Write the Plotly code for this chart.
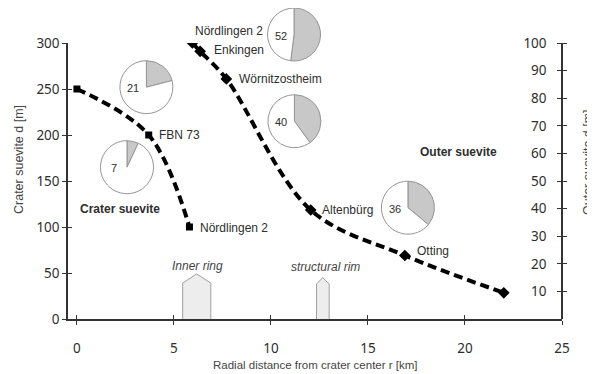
import plotly.graph_objects as go

# ---------------- data ----------------
crater_x = [0, 3.7, 5.8]
crater_y = [250, 200, 100]
crater_names = ["", "FBN 73", "Nördlingen 2"]

outer_x = [5.95, 6.35, 7.7, 12.05, 16.9, 22.0]
outer_y = [100, 97, 87, 39.5, 23, 9.5]
outer_names = ["Nördlingen 2", "Enkingen", "Wörnitzostheim", "Altenbürg", "Otting", ""]

pie_pct = [21, 7, 52, 40, 36]
pie_x = [3.58, 2.58, 11.19, 11.21, 17.06]
pie_y = [252, 165, 310, 215, 121]

inner_ring_x = [5.45, 5.45, 6.17, 6.9, 6.9]
inner_ring_y = [0, 39, 49, 39, 0]
rim_x = [12.35, 12.35, 12.67, 13.0, 13.0]
rim_y = [0, 38, 45, 38, 0]

x_ticks = [0, 5, 10, 15, 20, 25]
y_ticks = [0, 50, 100, 150, 200, 250, 300]
y2_ticks = [10, 20, 30, 40, 50, 60, 70, 80, 90, 100]

# ---------------- layout constants ----------------
W, H = 595, 374
OFF = 8                      # page body margin offset
ML, MR, MT, MB = 60, 41, 0, 63
PW, PH = W - ML - MR, H - MT - MB
XR = [-0.46, 25]
YTOP = 276 / PH
TXT = "#2e2e2e"
AX = "#333333"
FONT = "Liberation Sans, Arial, sans-serif"
TICKFONT = dict(family="Noto Sans, sans-serif", size=13.5, color=TXT)


def pxp(px):
    return (px - OFF - ML) / PW


def pyp(py):
    return (H - MB - (py - OFF)) / PH


fig = go.Figure()

# structural features
for xs, ys in [(inner_ring_x, inner_ring_y), (rim_x, rim_y)]:
    fig.add_trace(go.Scatter(x=xs, y=ys, mode="lines", fill="toself",
                             fillcolor="#ededed", line=dict(color="#a0a0a0", width=1),
                             hoverinfo="skip", showlegend=False))

# crater suevite curve
fig.add_trace(go.Scatter(x=crater_x, y=crater_y, mode="lines+markers",
                         line=dict(color="black", width=4, dash="9px,5px", shape="spline"),
                         marker=dict(symbol="square", size=7, color="black"),
                         showlegend=False))
# outer suevite curve
fig.add_trace(go.Scatter(x=outer_x, y=outer_y, mode="lines+markers", yaxis="y2",
                         line=dict(color="black", width=4, dash="9px,5px", shape="spline"),
                         marker=dict(symbol="diamond", size=9, color="black"),
                         showlegend=False))

# dummy traces for crossing ticks
fig.add_trace(go.Scatter(x=[None], y=[None], xaxis="x3", yaxis="y", showlegend=False, hoverinfo="skip"))
fig.add_trace(go.Scatter(x=[None], y=[None], xaxis="x", yaxis="y3", showlegend=False, hoverinfo="skip"))
fig.add_trace(go.Scatter(x=[None], y=[None], xaxis="x", yaxis="y4", showlegend=False, hoverinfo="skip"))

annotations = []

# pies
R = 26.5
for pct, px, py in zip(pie_pct, pie_x, pie_y):
    cx = (px - XR[0]) / (XR[1] - XR[0])
    cy = py / 300 * YTOP
    rx, ry = R / PW, R / PH
    cy = min(cy, 1 - ry)
    fig.add_trace(go.Pie(values=[pct, 100 - pct], sort=False, direction="clockwise",
                         rotation=0, textinfo="none", hoverinfo="skip", showlegend=False,
                         marker=dict(colors=["#c8c8c8", "white"],
                                     line=dict(color="#959595", width=1)),
                         domain=dict(x=[cx - rx, cx + rx], y=[cy - ry, cy + ry])))
    annotations.append(dict(x=cx, y=cy, xref="paper", yref="paper", text=str(pct),
                            showarrow=False, xshift=-13, yshift=-1,
                            xanchor="center", yanchor="middle",
                            font=dict(family=FONT, size=11, color=TXT)))

# point labels
crater_shift = [(0, 0), (8, 0), (9, -1)]
for x, y, n, (dx, dy) in zip(crater_x, crater_y, crater_names, crater_shift):
    if n:
        annotations.append(dict(x=x, y=y, xref="x", yref="y", text=n, showarrow=False,
                                xanchor="left", yanchor="middle", xshift=dx, yshift=dy,
                                font=dict(family=FONT, size=12, color=TXT)))
outer_shift = [(1, 12), (12, 1), (11, 0), (9, 0), (10, 5), (0, 0)]
for x, y, n, (dx, dy) in zip(outer_x, outer_y, outer_names, outer_shift):
    if n:
        annotations.append(dict(x=x, y=y, xref="x", yref="y2", text=n, showarrow=False,
                                xanchor="left", yanchor="middle", xshift=dx, yshift=dy,
                                font=dict(family=FONT, size=12, color=TXT)))

# region labels
annotations += [
    dict(x=0.05, y=120, xref="x", yref="y", text="<b>Crater suevite</b>", showarrow=False,
         xanchor="left", yanchor="middle", font=dict(family=FONT, size=12, color=TXT)),
    dict(x=17.6, y=181, xref="x", yref="y", text="<b>Outer suevite</b>", showarrow=False,
         xanchor="left", yanchor="middle", font=dict(family=FONT, size=12, color=TXT)),
    dict(x=6.2, y=58, xref="x", yref="y", text="<i>Inner ring</i>", showarrow=False,
         xanchor="center", yanchor="middle", font=dict(family=FONT, size=12, color="#444")),
    dict(x=12.8, y=56, xref="x", yref="y", text="<i>structural rim</i>", showarrow=False,
         xanchor="center", yanchor="middle", font=dict(family=FONT, size=12, color="#444")),
]

# axis titles
annotations += [
    dict(x=pxp(19), y=pyp(160), xref="paper", yref="paper", text="Crater suevite d [m]",
         textangle=-90, showarrow=False, xanchor="center", yanchor="middle",
         font=dict(family=FONT, size=12.5, color="#444")),
    dict(x=pxp(588), y=pyp(162), xref="paper", yref="paper", text="Outer suevite d [m]",
         textangle=-90, showarrow=False, xanchor="center", yanchor="middle",
         font=dict(family=FONT, size=12.5, color="#444")),
    dict(x=pxp(315), y=pyp(365), xref="paper", yref="paper",
         text="Radial distance from crater center r [km]", showarrow=False,
         xanchor="center", yanchor="middle",
         font=dict(family=FONT, size=11.5, color="#444")),
]

axis_common = dict(showgrid=False, zeroline=False, automargin=False)
tk = dict(ticklen=4, tickwidth=1.3, tickcolor=AX)
fig.update_layout(
    width=W, height=H, margin=dict(l=ML, r=MR, t=MT, b=MB, autoexpand=False),
    paper_bgcolor="white", plot_bgcolor="white",
    xaxis=dict(range=XR, domain=[0, 1], tickvals=x_ticks, ticks="outside", **tk,
               showline=True, linecolor=AX, linewidth=1.5,
               tickfont=TICKFONT, ticklabelstandoff=12, anchor="y", **axis_common),
    xaxis3=dict(range=XR, overlaying="x", anchor="y", tickvals=x_ticks, ticks="inside", **tk,
                showticklabels=False, showline=False, **axis_common),
    yaxis=dict(range=[0, 300], domain=[0, YTOP], tickvals=y_ticks, ticks="outside", **tk,
               showline=True, linecolor=AX, linewidth=1.5,
               tickfont=TICKFONT, anchor="x", **axis_common),
    yaxis3=dict(range=[0, 300], overlaying="y", anchor="x", side="left", tickvals=y_ticks,
                ticks="inside", **tk, showticklabels=False, showline=False, **axis_common),
    yaxis2=dict(range=[0, 100], overlaying="y", anchor="free", position=1, side="left",
                tickvals=y2_ticks, ticks="outside", **tk, showline=True,
                linecolor=AX, linewidth=1.5, tickfont=TICKFONT,
                ticklabelstandoff=8, **axis_common),
    yaxis4=dict(range=[0, 100], overlaying="y", anchor="x", side="right", tickvals=y2_ticks,
                ticks="outside", **tk, showticklabels=False, showline=False, **axis_common),
    annotations=annotations,
)

fig.write_html("out.html")
